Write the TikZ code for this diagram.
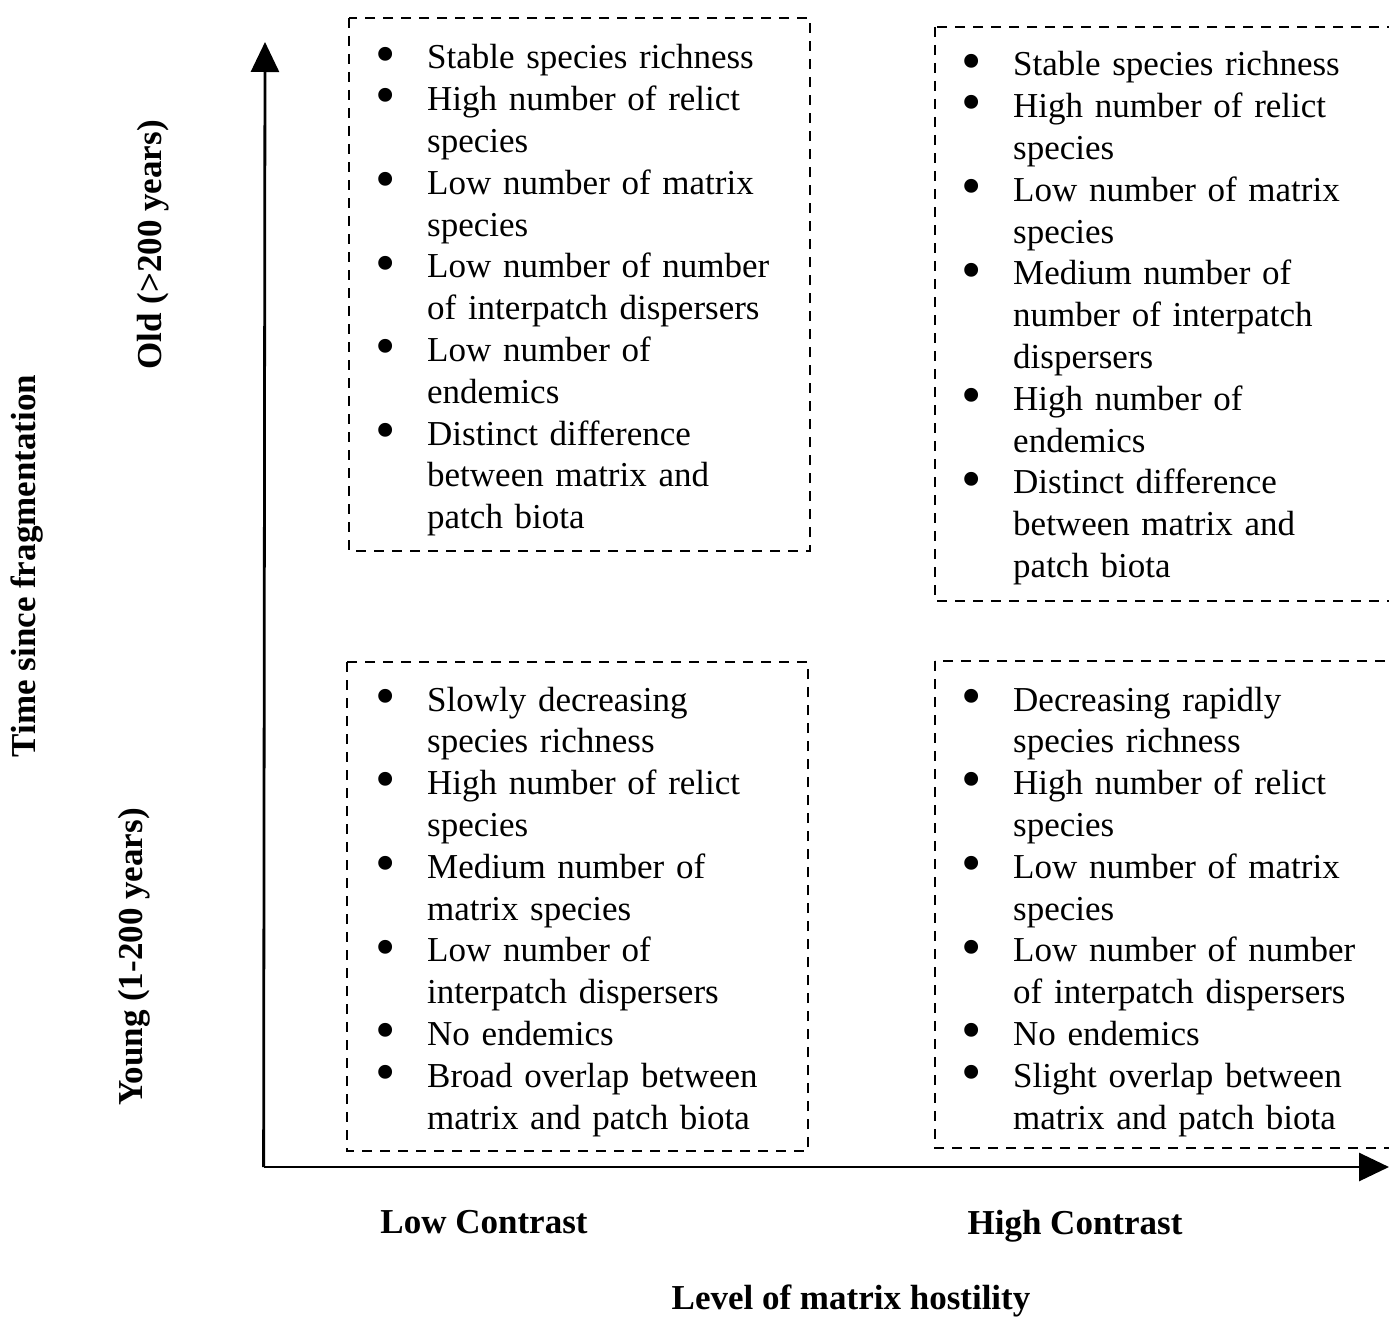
\documentclass[tikz,border=0pt]{standalone}
\usepackage{fontspec}
\setmainfont{Liberation Serif}
\usetikzlibrary{arrows.meta}
\newcommand\mybullet{\smash{\raisebox{-0.12em}{\fontsize{58}{58}\selectfont\textbullet}}}
\newenvironment{blist}{\begin{list}{\mybullet}{%
  \setlength\leftmargin{48pt}\setlength\labelwidth{12pt}\setlength\labelsep{36pt}%
  \setlength\itemsep{0pt}\setlength\parsep{0pt}\setlength\topsep{0pt}%
  \setlength\partopsep{0pt}\setlength\itemindent{0pt}\setlength\listparindent{0pt}%
  \renewcommand\makelabel[1]{\makebox[12pt][c]{##1}}}}{\end{list}}
\tikzset{
  dbox/.style={draw, line width=2.6pt, dash pattern=on 10pt off 8pt},
  axis/.style={draw, line width=2.8pt, -{Triangle[length=30pt,width=28pt]}},
  btext/.style={anchor=north west, inner sep=0pt, text width=520pt, align=left,
    font=\fontsize{35}{41.8}\selectfont},
  lab/.style={inner sep=0pt, font=\fontsize{35}{42}\selectfont\bfseries},
}
\begin{document}
\begin{tikzpicture}[x=1pt,y=-1pt]
\useasboundingbox (0,0) rectangle (1389,1319);
\clip (0,0) rectangle (1389,1319);
\fill[white] (0,0) rectangle (1389,1319);
% boxes
\draw[dbox] (349,18) rectangle (810,551);
\draw[dbox] (935,27) rectangle (1420,601);
\draw[dbox] (347,662) rectangle (808,1151);
\draw[dbox] (935,661) rectangle (1420,1148);
% axes
\coordinate (o) at (265,1167);
\coordinate (ytip) at (265,42);
\coordinate (xtip) at (1389,1167);
\draw[axis] ([xshift=-1.4pt]o) -- (ytip);
\draw[axis] ([xshift=-1.4pt]o) -- (xtip);
% texts
\node[btext] (tl) at (379,27) {\begin{blist}
\item Stable species richness
\item High number of relict\\ species
\item Low number of matrix\\ species
\item Low number of number\\ of interpatch dispersers
\item Low number of\\ endemics
\item Distinct difference\\ between matrix and\\ patch biota
\end{blist}};
\node[btext] (tr) at (965,34) {\begin{blist}
\item Stable species richness
\item High number of relict\\ species
\item Low number of matrix\\ species
\item Medium number of\\ number of interpatch\\ dispersers
\item High number of\\ endemics
\item Distinct difference\\ between matrix and\\ patch biota
\end{blist}};
\node[btext] (bl) at (379,669) {\begin{blist}
\item Slowly decreasing\\ species richness
\item High number of relict\\ species
\item Medium number of\\ matrix species
\item Low number of\\ interpatch dispersers
\item No endemics
\item Broad overlap between\\ matrix and patch biota
\end{blist}};
\node[btext] (br) at (965,669) {\begin{blist}
\item Decreasing rapidly\\ species richness
\item High number of relict\\ species
\item Low number of matrix\\ species
\item Low number of number\\ of interpatch dispersers
\item No endemics
\item Slight overlap between\\ matrix and patch biota
\end{blist}};
% labels
\node[lab] (lowc) at (484,1222) {Low Contrast};
\node[lab] (highc) at (1075,1226) {High Contrast};
\node[lab] (level) at (851,1301) {Level of matrix hostility};
\node[lab, rotate=90] (time) at (27,566) {Time since fragmentation};
\node[lab, rotate=90] (old) at (153,245) {Old (>200 years)};
\node[lab, rotate=90] (young) at (134,957) {Young (1-200 years)};
\end{tikzpicture}
\end{document}
